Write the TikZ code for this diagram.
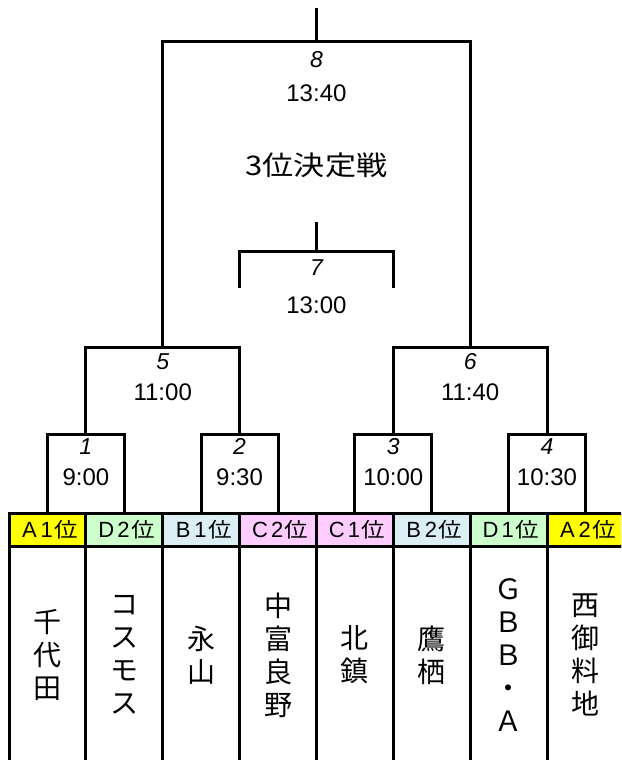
\documentclass[tikz,border=0pt]{standalone}
\usepackage{fontspec}
\setmainfont{Noto Sans CJK JP}
\newfontfamily\cjkwide{Noto Sans CJK JP}[FakeStretch=1.15]
\newfontfamily\numfont{Liberation Sans}
\definecolor{cA}{HTML}{FFFF00}
\definecolor{cB}{HTML}{DAEEF3}
\definecolor{cC}{HTML}{FFCCFF}
\definecolor{cD}{HTML}{CCFFCC}
\newcommand{\labtxt}[2]{\hspace*{3pt}\makebox[17pt]{\numfont\fontsize{22}{22}\selectfont #1}\makebox[17.5pt]{\numfont\fontsize{22}{22}\selectfont #2}\makebox[21.5pt]{\cjkwide\fontsize{20.5}{20.5}\selectfont 位}}
\begin{document}
\begin{tikzpicture}[x=1pt,y=-1pt,
  ln/.style={line width=3pt},
  labcell/.style={draw, line width=3pt, minimum width=76.857pt, minimum height=32.5pt, inner sep=0pt, outer sep=0pt},
  teamcell/.style={draw, line width=3pt, minimum width=76.857pt, minimum height=218pt, inner sep=0pt, outer sep=0pt, align=center, font=\fontsize{28}{33}\selectfont},
  mnum/.style={inner sep=0pt, font=\numfont\itshape\fontsize{23}{23}\selectfont},
  mtime/.style={inner sep=0pt, font=\numfont\fontsize{24}{24}\selectfont},
  title/.style={inner sep=0pt, font=\cjkwide\fontsize{27}{27}\selectfont}]
\useasboundingbox (0,0) rectangle (621,760);
\fill[white] (0,0) rectangle (621,760);
\clip (0,0) rectangle (621,760);
% label cells
\node[labcell, fill=cA] (lab0) at (47.43,529.75) {\labtxt{A}{1}};
\node[labcell, fill=cD] (lab1) at (124.29,529.75) {\labtxt{D}{2}};
\node[labcell, fill=cB] (lab2) at (201.14,529.75) {\labtxt{B}{1}};
\node[labcell, fill=cC] (lab3) at (278.00,529.75) {\labtxt{C}{2}};
\node[labcell, fill=cC] (lab4) at (354.86,529.75) {\labtxt{C}{1}};
\node[labcell, fill=cB] (lab5) at (431.71,529.75) {\labtxt{B}{2}};
\node[labcell, fill=cD] (lab6) at (508.57,529.75) {\labtxt{D}{1}};
\node[labcell, fill=cA] (lab7) at (585.43,529.75) {\labtxt{A}{2}};
% team cells
\node[teamcell] (team0) at (47.43,655) {千\\代\\田};
\node[teamcell] (team1) at (124.29,655) {コ\\ス\\モ\\ス};
\node[teamcell] (team2) at (201.14,655) {永\\山};
\node[teamcell] (team3) at (278.00,655) {中\\富\\良\\野};
\node[teamcell] (team4) at (354.86,655) {北\\鎮};
\node[teamcell] (team5) at (431.71,655) {鷹\\栖};
\node[teamcell] (team6) at (508.57,655) {Ｇ\\Ｂ\\Ｂ\\・\\Ａ};
\node[teamcell] (team7) at (585.43,655) {西\\御\\料\\地};
% junctions
\coordinate (j1) at (85.86,434);
\coordinate (j2) at (239.57,434);
\coordinate (j3) at (393.29,434);
\coordinate (j4) at (547.00,434);
\coordinate (j5) at (162.71,347);
\coordinate (j6) at (470.14,347);
\coordinate (j8) at (316.43,42);
\coordinate (top) at (316.43,8);
\coordinate (j7) at (316.43,251);
\coordinate (top7) at (316.43,222);
\coordinate (l7) at (239.57,288);
\coordinate (r7) at (393.29,288);
% brackets
\draw[ln] (lab0.north) |- (j1) -| (lab1.north);
\draw[ln] (lab2.north) |- (j2) -| (lab3.north);
\draw[ln] (lab4.north) |- (j3) -| (lab5.north);
\draw[ln] (lab6.north) |- (j4) -| (lab7.north);
\draw[ln] (j1) |- (j5) -| (j2);
\draw[ln] (j3) |- (j6) -| (j4);
\draw[ln] (j5) |- (j8) -| (j6);
\draw[ln] (j8) -- (top);
\draw[ln] (l7) |- (j7) -| (r7);
\draw[ln] (j7) -- (top7);
% match texts
\node[mnum] (m1) at (85.86,446.7) {1};
\node[mtime] (t1) at (85.86,477) {9:00};
\node[mnum] (m2) at (239.57,446.7) {2};
\node[mtime] (t2) at (239.57,477) {9:30};
\node[mnum] (m3) at (393.29,446.7) {3};
\node[mtime] (t3) at (393.29,477) {10:00};
\node[mnum] (m4) at (547.00,446.7) {4};
\node[mtime] (t4) at (547.00,477) {10:30};
\node[mnum] (m5) at (162.71,361.5) {5};
\node[mtime] (t5) at (162.71,392) {11:00};
\node[mnum] (m6) at (470.14,361.5) {6};
\node[mtime] (t6) at (470.14,392) {11:40};
\node[mnum] (m7) at (316.43,268) {7};
\node[mtime] (t7) at (316.43,305) {13:00};
\node[mnum] (m8) at (316.43,60) {8};
\node[mtime] (t8) at (316.43,93) {13:40};
\node[title] (ttl) at (316.43,165.5) {3位決定戦};
\end{tikzpicture}
\end{document}
